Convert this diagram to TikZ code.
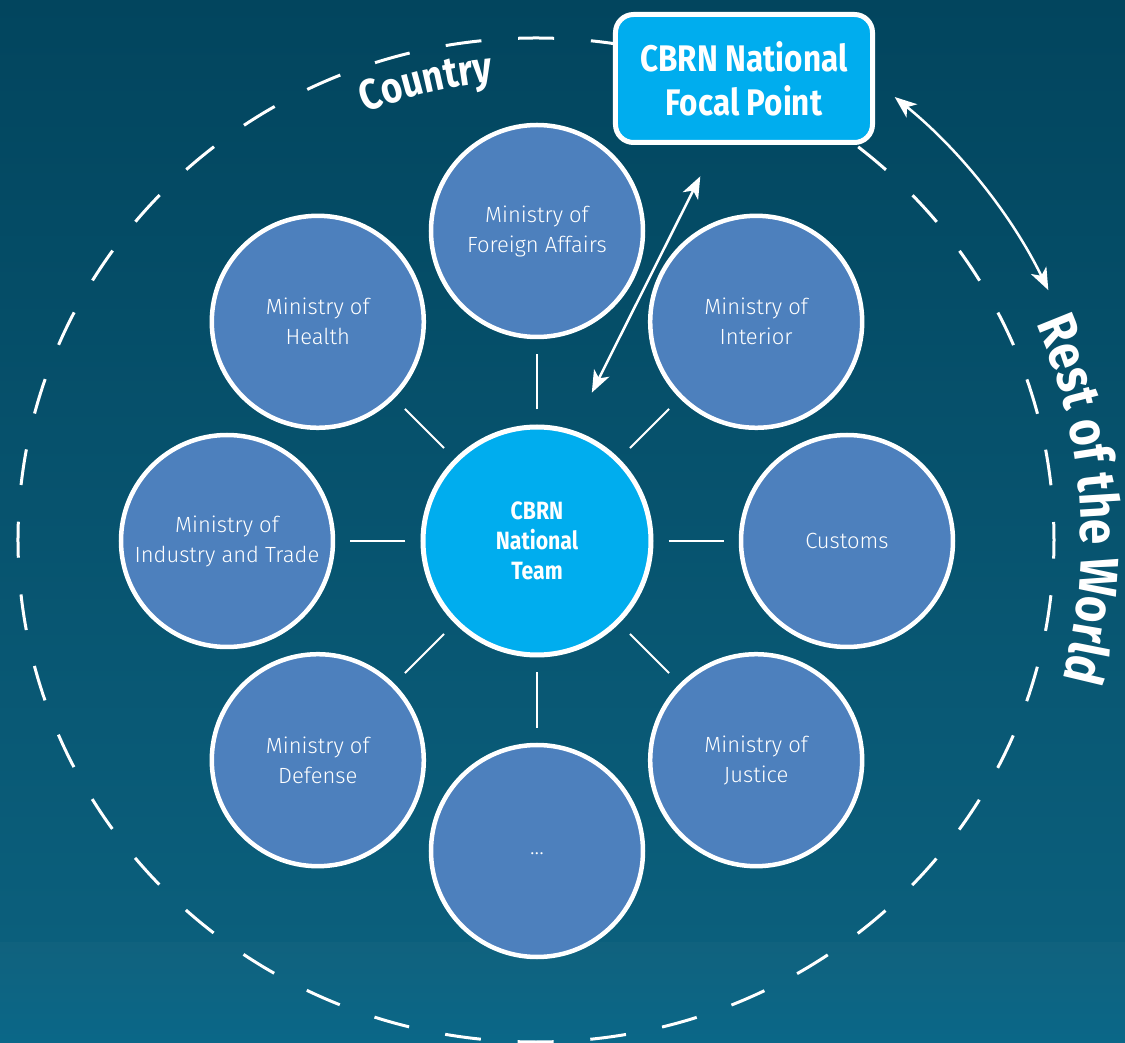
\documentclass[tikz,border=0pt]{standalone}
\usepackage{fontspec}
\usetikzlibrary{arrows.meta,decorations.text}
\newfontfamily\thinfont{Fira Sans Light}
\newfontfamily\boldfont{Fira Sans}[FakeStretch=0.85]
\definecolor{bgtop}{RGB}{2,69,94}
\definecolor{bgmid}{RGB}{11,95,124}
\definecolor{bandtop}{RGB}{16,98,126}
\definecolor{bandbot}{RGB}{10,103,136}
\definecolor{ministryblue}{RGB}{77,128,189}
\definecolor{cbrnblue}{RGB}{0,173,238}

\begin{document}
\begin{tikzpicture}[x=1pt,y=1pt,
		ministry/.style={circle,draw=white,line width=4.5pt,fill=ministryblue,minimum size=212pt,inner sep=0pt,
			align=center,text=white,font=\thinfont\fontsize{22}{30}\selectfont},
		team/.style={circle,draw=white,line width=5pt,fill=cbrnblue,minimum size=228pt,inner sep=0pt,
			align=center,text=white,font=\boldfont\bfseries\fontsize{25}{30}\selectfont},
		focalbox/.style={rectangle,rounded corners=18pt,draw=white,line width=5pt,fill=cbrnblue,
			minimum width=257pt,minimum height=128pt,align=center,text=white,
			font=\boldfont\bfseries\fontsize{37}{44}\selectfont},
		link/.style={draw=white,line width=2pt,shorten <=15pt,shorten >=15pt},
		twoway/.style={white,line width=2.5pt,{Stealth[length=22pt,width=17pt,inset=6pt]}-{Stealth[length=22pt,width=17pt,inset=6pt]}}]
	% background
	\shade[top color=bgtop,bottom color=bgmid] (-537,-402) rectangle (588,541);
	\shade[top color=bandtop,bottom color=bandbot] (-537,-502) rectangle (588,-402);
	\useasboundingbox (-537,-502) rectangle (588,541);
	\coordinate (hub) at (-1,1);
	\draw[white,line width=3pt,dash pattern=on 36pt off 36.83pt,dash phase=18pt] (hub) ellipse[x radius=518,y radius=502];
	
	\node[focalbox] (focal) at (207,462.5) {CBRN National\\Focal Point};
	
	\node[ministry] (foreign) at (90:310) {Ministry of\\Foreign Affairs};
	\node[ministry] (interior) at (45:310) {Ministry of\\Interior};
	\node[ministry] (customs) at (0:310) {Customs};
	\node[ministry] (justice) at (-45:310) {Ministry of\\Justice};
	\node[ministry] (others) at (-90:310) {\raisebox{-8pt}{...}};
	\node[ministry] (defense) at (-135:310) {Ministry of\\Defense};
	\node[ministry] (industry) at (180:310) {Ministry of\\Industry and Trade};
	\node[ministry] (health) at (135:310) {Ministry of\\Health};
	\node[team] (team) at (0,0) {CBRN\\National\\Team};
	
	\path[link]
	(team) edge (foreign) edge (interior) edge (customs) edge (justice)
	(team) edge (others) edge (defense) edge (industry) edge (health);
	
	\draw[twoway,shorten <=42pt,shorten >=35pt] (team.72) -- ([xshift=-28pt]focal.south);
	\coordinate (fp) at ([shift={(51:570)}]hub);
	\draw[twoway] (fp) arc[start angle=51,end angle=26,radius=570];
	
	% labels on the rings
	\path[decorate,decoration={text along path,text align=center,
		text={|\boldfont\bfseries\fontsize{43}{43}\selectfont\color{white}|Country}}]
	([shift={(126:460)}]hub) arc[start angle=126,end angle=81,radius=460];
	\path[decorate,decoration={text along path,text align=center,
		text={|\boldfont\bfseries\fontsize{54}{54}\selectfont\color{white}|Rest of the World}}]
	([shift={(34.3:545)}]hub) arc[start angle=34.3,end angle=-25.7,radius=545];
\end{tikzpicture}
\end{document}
